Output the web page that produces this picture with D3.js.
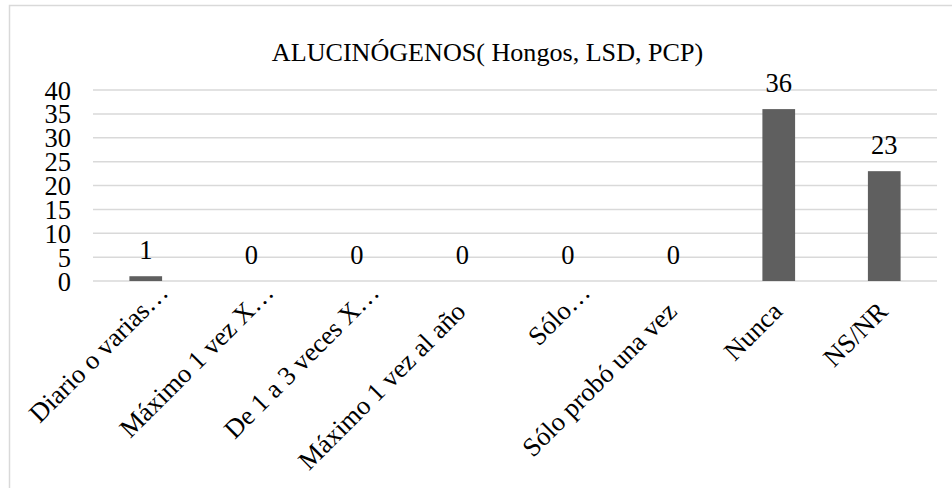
<!DOCTYPE html>
<html><head><meta charset="utf-8">
<script src="https://cdn.jsdelivr.net/npm/d3@7"></script>
<style>body{margin:0;background:#fff}svg{display:block}</style>
</head><body><svg id="c" width="952" height="488" font-family="Liberation Serif"></svg>
<script>
const categories = ["Diario o varias…","Máximo 1 vez X…","De 1 a 3 veces X…","Máximo 1 vez al año","Sólo…","Sólo probó una vez","Nunca","NS/NR"];
const values = [1,0,0,0,0,0,36,23];
const yTicks = [0,5,10,15,20,25,30,35,40];
const title = "ALUCINÓGENOS( Hongos, LSD, PCP)";

const FONT = "Liberation Serif";
const FS = 26.5;
const svg = d3.select("#c");
svg.append("rect").attr("x",9.5).attr("y",5.5).attr("width",960).attr("height",500)
  .attr("fill","#fff").attr("stroke","#d9d9d9").attr("stroke-width",1.5);

const m = {l:93, r:937, t:90, b:281};
const x = d3.scaleBand().domain(categories).range([m.l,m.r]).paddingInner(0.69).paddingOuter(0.345);
const y = d3.scaleLinear().domain([0,40]).range([m.b,m.t]);

svg.append("g").selectAll("line").data(yTicks).join("line")
  .attr("x1",m.l).attr("x2",m.r).attr("y1",d=>y(d)).attr("y2",d=>y(d))
  .attr("stroke","#d9d9d9").attr("stroke-width",1.5);

const ya = svg.append("g").attr("transform",`translate(71,0)`)
  .call(d3.axisLeft(y).tickValues(yTicks).tickSize(0).tickPadding(0));
ya.select(".domain").remove();
ya.attr("font-family",FONT).attr("font-size",FS);
ya.selectAll("text").attr("font-size",FS).attr("font-family",FONT).style("font-family",`'${FONT}'`).attr("fill","#000").attr("dy","0.34em");

svg.append("g").selectAll("rect").data(values).join("rect")
  .attr("x",(d,i)=>x(categories[i])).attr("width",x.bandwidth())
  .attr("y",d=>y(d)).attr("height",d=>y(0)-y(d)).attr("fill","#5f5f5f");

svg.append("g").attr("font-family",FONT).selectAll("text").data(values).join("text")
  .attr("x",(d,i)=>x(categories[i])+x.bandwidth()/2).attr("y",d=>y(d)-17)
  .attr("text-anchor","middle").attr("font-size",FS).attr("font-family",FONT).style("font-family",`'${FONT}'`).attr("fill","#000").text(d=>d);

const xa = svg.append("g").attr("transform",`translate(0,${m.b})`)
  .call(d3.axisBottom(x).tickSize(0).tickPadding(0));
xa.select(".domain").remove();
xa.attr("font-family",FONT).attr("font-size",FS);
xa.selectAll("text").attr("font-size",FS).attr("font-family",FONT).style("font-family",`'${FONT}'`).attr("fill","#000")
  .attr("text-anchor","end").attr("dy",0).attr("y",0)
  .attr("x",d=>d.endsWith("…")?27:0)
  .attr("transform","translate(5,32) rotate(-45)");

svg.append("g").attr("font-family",FONT).append("text").attr("x",487.5).attr("y",61).attr("text-anchor","middle")
  .attr("font-size",26.1).attr("font-family",FONT).style("font-family",`'${FONT}'`).attr("fill","#000").text(title);
</script></body></html>
